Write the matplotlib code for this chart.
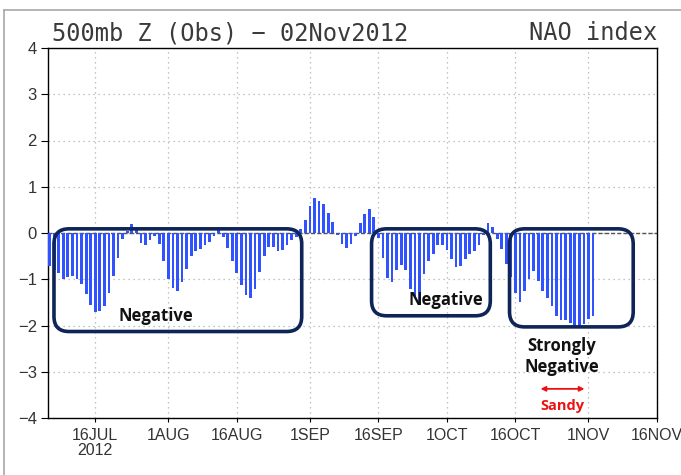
import datetime as dt
import numpy as np
import pandas as pd
import matplotlib
matplotlib.use("Agg")
import matplotlib.pyplot as plt
import matplotlib.dates as mdates
from matplotlib.patches import FancyBboxPatch
from matplotlib.lines import Line2D

# ---------------- data ----------------
start_date = "2012-07-06"
end_date = "2012-11-02"
nao_jul = [-0.71, -0.80, -0.86, -1.00, -0.96, -0.94, -0.99, -1.11, -1.32, -1.56,
           -1.70, -1.68, -1.57, -1.29, -0.94, -0.54, -0.14, 0.04, 0.19, 0.06,
           -0.21, -0.25, -0.16, -0.07, -0.23, -0.61]                      # Jul 6-31
nao_aug = [-0.99, -1.18, -1.25, -1.07, -0.77, -0.50, -0.39, -0.34, -0.25, -0.20,
           -0.07, 0.06, -0.09, -0.32, -0.61, -0.86, -1.13, -1.34, -1.41, -1.21,
           -0.84, -0.49, -0.30, -0.30, -0.38, -0.36, -0.27, -0.15, -0.08, 0.08,
           0.29]                                                          # Aug 1-31
nao_sep = [0.59, 0.75, 0.69, 0.62, 0.44, 0.24, -0.05, -0.23, -0.33, -0.23,
           -0.07, 0.21, 0.42, 0.51, 0.34, -0.10, -0.54, -0.98, -1.07, -0.80,
           -0.70, -0.79, -1.21, -1.36, -1.55, -0.89, -0.61, -0.46, -0.27, -0.25]  # Sep 1-30
nao_oct = [-0.36, -0.56, -0.73, -0.71, -0.57, -0.46, -0.39, -0.25, -0.05, 0.22,
           0.14, -0.13, -0.35, -0.68, -0.95, -1.29, -1.50, -1.25, -1.00, -0.82,
           -1.04, -1.25, -1.41, -1.57, -1.79, -1.89, -1.89, -1.95, -2.00, -2.00,
           -1.96]                                                         # Oct 1-31
nao_nov = [-1.86, -1.80]                                                  # Nov 1-2

tick_dates = ["2012-07-16", "2012-08-01", "2012-08-16", "2012-09-01", "2012-09-16",
              "2012-10-01", "2012-10-16", "2012-11-01", "2012-11-16"]
tick_labels = ["16JUL\n2012", "1AUG", "16AUG", "1SEP", "16SEP", "1OCT", "16OCT", "1NOV", "16NOV"]
y_ticks = [-4, -3, -2, -1, 0, 1, 2, 3, 4]

# highlight boxes (date left, date right, value top, value bottom)
box_left = ["2012-07-06 23:00", "2012-09-14 12:00", "2012-10-14 17:00"]
box_right = ["2012-08-30 05:00", "2012-10-10 12:00", "2012-11-10 19:00"]
box_top = [0.09, 0.09, 0.09]
box_bottom = [-2.13, -1.79, -2.03]
box_texts = ["Negative", "Negative", "Strongly\nNegative"]
text_x = ["2012-07-29 07:00", "2012-09-30 17:00", "2012-10-26 03:00"]
text_y = [-1.79, -1.44, -2.67]

sandy_x0, sandy_x1 = "2012-10-21 12:00", "2012-10-31 03:00"
sandy_y = -3.37
sandy_text_y = -3.73

# ---------------- figure ----------------
nao = nao_jul + nao_aug + nao_sep + nao_oct + nao_nov
dates = pd.date_range(start_date, end_date, freq="D")
x = mdates.date2num(dates.to_pydatetime())

W, H = 681, 475
fig = plt.figure(figsize=(W / 100, H / 100), dpi=100)
fig.patch.set_facecolor("white")

# screenshot frame (left and top grey lines)
fig.add_artist(Line2D([4 / W, 4 / W], [0, 1 - 10 / H], color="#a8a8a8", lw=1.2))
fig.add_artist(Line2D([4 / W, 1], [1 - 10 / H, 1 - 10 / H], color="#a8a8a8", lw=1.2))

ax = fig.add_axes([48 / W, 1 - 418 / H, (657 - 48) / W, (418 - 48) / H])

ax.bar(x, nao, width=0.6, color="#3152ff", zorder=3)

x_left = mdates.date2num(dt.datetime(2012, 7, 16)) - 10.35
x_right = mdates.date2num(dt.datetime(2012, 11, 16))
ax.set_xlim(x_left, x_right)
ax.set_ylim(-4, 4)

tick_x = [mdates.date2num(pd.Timestamp(d).to_pydatetime()) for d in tick_dates]
ax.set_xticks(tick_x)
ax.set_xticklabels(tick_labels, fontsize=11.5, color="#333333",
                   family=["Liberation Sans Narrow", "Liberation Sans"], linespacing=1.0)
ax.set_yticks(y_ticks)
ax.set_yticklabels([str(v) if v >= 0 else "\u2212" + str(-v) for v in y_ticks],
                   fontsize=12, color="#333333", family=["Liberation Sans Narrow", "Liberation Sans"])
ax.tick_params(axis="y", direction="out", length=5, width=0.8, pad=3)
ax.tick_params(axis="x", direction="out", length=3, width=0.8, pad=4)

ax.grid(True, color="#b0b0b0", linestyle=(0, (1, 3)), linewidth=0.9, zorder=0)
ax.axhline(0, color="#555555", linestyle=(0, (3, 1.5)), linewidth=1.0, zorder=2)

for s in ["left", "right"]:
    ax.spines[s].set_color("black")
    ax.spines[s].set_linewidth(1.0)
for s in ["top", "bottom"]:
    ax.spines[s].set_color("black")
    ax.spines[s].set_linewidth(1.0)
    ax.spines[s].set_linestyle((0, (4, 1)))

# rounded highlight boxes
px_per_day = (657 - 48) / (x_right - x_left)
px_per_unit = (418 - 48) / 8
r_px = 15
for l, r, t, b in zip(box_left, box_right, box_top, box_bottom):
    xl = mdates.date2num(pd.Timestamp(l).to_pydatetime())
    xr = mdates.date2num(pd.Timestamp(r).to_pydatetime())
    p = FancyBboxPatch((xl, b), xr - xl, t - b,
                       boxstyle=f"round,pad=0,rounding_size={r_px / px_per_day}",
                       mutation_aspect=px_per_day / px_per_unit,
                       facecolor="none", edgecolor="#0f2557", linewidth=2.6,
                       zorder=5, clip_on=False)
    ax.add_patch(p)

for tx, ty, s in zip(text_x, text_y, box_texts):
    ax.text(mdates.date2num(pd.Timestamp(tx).to_pydatetime()), ty, s,
            ha="center", va="center", fontsize=12, fontweight="bold",
            family=["Open Sans", "DejaVu Sans"], color="#111111", zorder=6,
            linespacing=1.2)

# Sandy arrow
sx0 = mdates.date2num(pd.Timestamp(sandy_x0).to_pydatetime())
sx1 = mdates.date2num(pd.Timestamp(sandy_x1).to_pydatetime())
ax.annotate("", xy=(sx1, sandy_y), xytext=(sx0, sandy_y),
            arrowprops=dict(arrowstyle="<|-|>", color="#ee1111", lw=1.3,
                            mutation_scale=7, shrinkA=0, shrinkB=0), zorder=6)
ax.text((sx0 + sx1) / 2, sandy_text_y, "Sandy", ha="center", va="center",
        fontsize=10.5, fontweight="bold", color="#ee1111",
        family=["Open Sans", "DejaVu Sans"], zorder=6)

# titles
fig.text(52 / W, 1 - 33 / H, "500mb Z (Obs) \u2212 02Nov2012", ha="left", va="center",
         fontsize=17, color="#3a3a3a", family=["DejaVu Sans Mono", "DejaVu Sans"])
fig.text(657 / W, 1 - 33 / H, "NAO index", ha="right", va="center",
         fontsize=17, color="#3a3a3a", family=["DejaVu Sans Mono", "DejaVu Sans"])

fig.savefig("out.png", dpi=100, facecolor="white")
